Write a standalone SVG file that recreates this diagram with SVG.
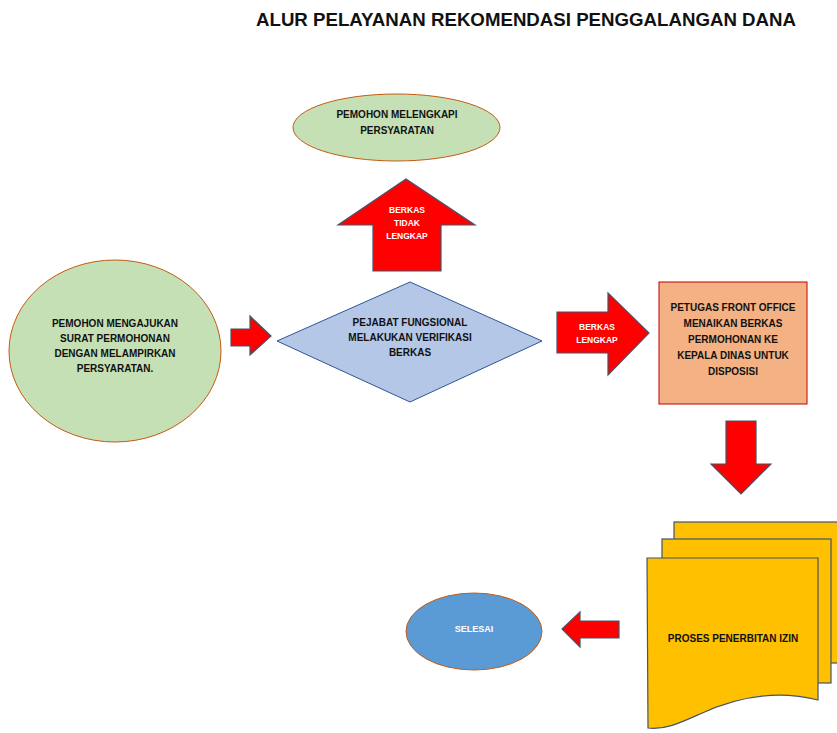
<svg xmlns="http://www.w3.org/2000/svg" width="837" height="733" viewBox="0 0 837 733">
<style>
text{font-family:"Liberation Sans",Arial,sans-serif;font-weight:bold;text-anchor:middle}
.t{font-size:10px;fill:#111}
.w{font-size:8.5px;fill:#fff}
.arrow{fill:#ff0000;stroke:#44546a;stroke-width:1.2;stroke-linejoin:miter}
.doc{fill:#ffc000;stroke:#44546a;stroke-width:1.2}
</style>
<rect width="837" height="733" fill="#fff"/>
<text x="526" y="26" textLength="540" lengthAdjust="spacingAndGlyphs" style="font-size:19px;fill:#111">ALUR PELAYANAN REKOMENDASI PENGGALANGAN DANA</text>

<g id="lengkapi">
<ellipse cx="396.5" cy="127.5" rx="103.5" ry="33.5" fill="#c5e0b4" stroke="#c55a11" stroke-width="1"/>
<text class="t" x="397" y="118">PEMOHON MELENGKAPI</text>
<text class="t" x="397" y="134">PERSYARATAN</text>
</g>

<g id="mengajukan">
<ellipse cx="115" cy="351" rx="106" ry="91" fill="#c5e0b4" stroke="#c55a11" stroke-width="1"/>
<text class="t" x="115" y="327">PEMOHON MENGAJUKAN</text>
<text class="t" x="115" y="342">SURAT PERMOHONAN</text>
<text class="t" x="115" y="357">DENGAN MELAMPIRKAN</text>
<text class="t" x="115" y="372">PERSYARATAN.</text>
</g>

<g id="verifikasi">
<polygon points="277,341 410,282 542,341 410,402" fill="#b4c7e7" stroke="#2f5597" stroke-width="1"/>
<text class="t" x="410" y="326">PEJABAT FUNGSIONAL</text>
<text class="t" x="410" y="341">MELAKUKAN VERIFIKASI</text>
<text class="t" x="410" y="356">BERKAS</text>
</g>

<g id="frontoffice">
<rect x="659" y="282" width="148" height="122" fill="#f4b183" stroke="#c00000" stroke-width="1"/>
<text class="t" x="733" y="311">PETUGAS FRONT OFFICE</text>
<text class="t" x="733" y="327">MENAIKAN BERKAS</text>
<text class="t" x="733" y="343">PERMOHONAN KE</text>
<text class="t" x="733" y="359">KEPALA DINAS UNTUK</text>
<text class="t" x="733" y="375">DISPOSISI</text>
</g>

<g id="penerbitan">
<rect class="doc" x="674" y="522" width="170" height="141"/>
<rect class="doc" x="662" y="539" width="169" height="144"/>
<path class="doc" d="M647,558 L818,558 L818,700 C770,688 730,700 700,714 C680,723 665,730 648,728 Z"/>
<text class="t" x="733" y="642">PROSES PENERBITAN IZIN</text>
</g>

<g id="selesai">
<ellipse cx="474" cy="631.5" rx="68" ry="38.5" fill="#5b9bd5" stroke="#c55a11" stroke-width="1"/>
<text x="474" y="632" style="font-size:9px;fill:#fff">SELESAI</text>
</g>

<g id="connectors">
<polygon class="arrow" points="231,329 250,329 250,316 271,336 250,355 250,346 231,346"/>
<g>
<polygon class="arrow" points="373,271 373,225 338,225 406,179 475,225 441,225 441,271"/>
<text class="w" x="407" y="213">BERKAS</text>
<text class="w" x="407" y="226">TIDAK</text>
<text class="w" x="407" y="239">LENGKAP</text>
</g>
<g>
<polygon class="arrow" points="557,312 608,312 608,293 649,333 608,375 608,353 557,353"/>
<text class="w" x="597" y="330">BERKAS</text>
<text class="w" x="597" y="343">LENGKAP</text>
</g>
<polygon class="arrow" points="726,421 756,421 756,464 771,464 741,494 711,464 726,464"/>
<polygon class="arrow" points="619,621 580,621 580,612 562,629 580,647 580,638 619,638"/>
</g>
</svg>
